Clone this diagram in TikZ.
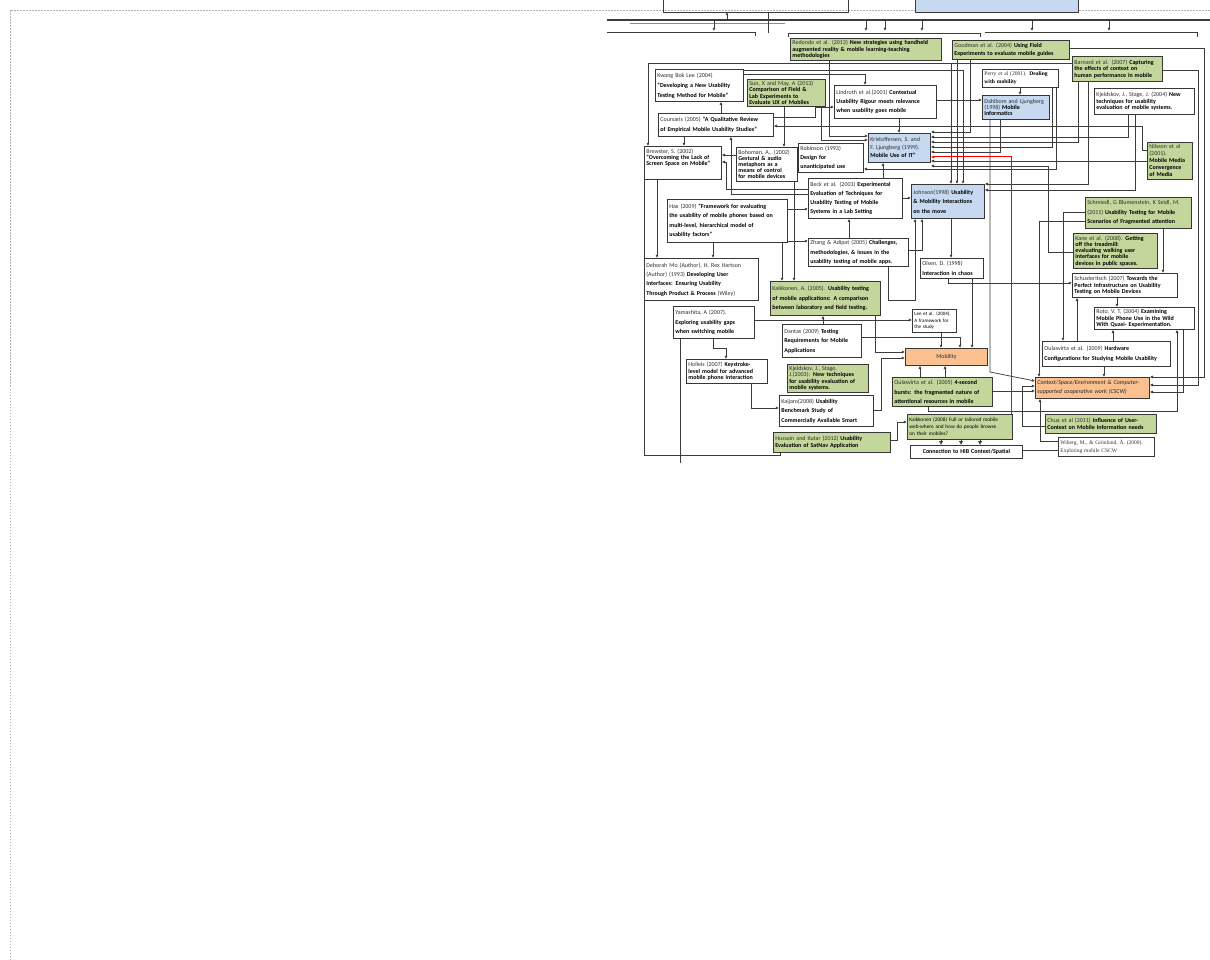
\documentclass[tikz,border=0pt]{standalone}
\usepackage{fontspec}
\setmainfont{Carlito}
\newfontfamily\tnr{Liberation Serif}
\usetikzlibrary{arrows.meta}
\definecolor{gfill}{RGB}{195,214,155}
\definecolor{bfill}{RGB}{198,217,241}
\definecolor{ofill}{RGB}{250,192,144}
\definecolor{edge}{RGB}{55,55,55}
\definecolor{wire}{RGB}{60,60,60}
\tikzset{
 box/.style={draw=edge,line width=0.8pt,fill=white,inner xsep=2pt,inner ysep=0.5pt,align=left,text=black!82},
 gf/.style={fill=gfill},
 bf/.style={fill=bfill},
 of/.style={fill=ofill},
 con/.style={draw=wire,line width=0.75pt},
 arr/.style={con,-{Latex[length=3.2pt,width=3pt]}},
 bigarr/.style={con,line width=0.9pt,-{Latex[length=4pt,width=4.5pt]}},
 redarr/.style={draw=red,line width=1pt,-{Latex[length=3.5pt,width=3.2pt]}},
}
\newcommand\diabox[8][]{%
  \pgfmathsetmacro\dbw{#5-#3}%
  \pgfmathsetmacro\dbh{#6-#4}%
  \pgfmathsetmacro\dbt{#5-#3-4}%
  \node[box,anchor=north west,minimum width=\dbw pt,minimum height=\dbh pt,text width=\dbt pt,font=\fontsize{6}{#7}\selectfont,#1] (#2) at (#3,#4) {#8};}
\newcommand\tb[1]{\textbf{\color{black}#1}}
\begin{document}
\begin{tikzpicture}[x=1pt,y=-1pt]
\useasboundingbox (0,0) rectangle (1210,960);
% page border
\draw[black!30,line width=0.8pt,dash pattern=on 1.5pt off 1.5pt] (10,960) -- (10,10) -- (1210,10);

% ---- cut-off upper strip
\draw[con,fill=bfill] (915,-2) rectangle (1078,12);
\draw[con] (663,0) -- (663,12) -- (848,12) -- (848,0);
\draw[con,line width=1.2pt] (607,20) -- (1210,20);
\draw[con,black!45] (630,23) -- (785,23);
\draw[arr] (727,20) -- (727,12);
\draw[con] (768,12) -- (768,33);
\foreach \x in {714,866,885,922,1032,1109} \draw[arr] (\x,20) -- (\x,31);
\draw[con] (607,32) -- (755,32) -- (755,36);
\draw[con] (788,37) -- (788,33) -- (980,33) -- (980,37);
\draw[con,line width=1pt] (985,33) -- (1197,33) -- (1197,37);

% ---- boxes
\diabox[gf]{redondo}{790}{38}{941}{60}{6.5}{Redondo et al. (2013) \tb{New strategies using handheld}\\\tb{augmented reality \& mobile learning-teaching}\\\tb{methodologies}}
\diabox[gf]{goodman}{952}{40}{1069}{59}{8}{Goodman et al. (2004) \tb{Using Field}\\\tb{Experiments to evaluate mobile guides}}
\diabox[gf]{barnard}{1072}{56}{1162}{81}{6.5}{Barnard et al. (2007) \tb{Capturing}\\\tb{the effects of context on}\\\tb{human performance in mobile}}
\diabox{kwang}{655}{69}{743}{101}{10}{Kwang Bok Lee (2004)\\\tb{“Developing a New Usability}\\\tb{Testing Method for Mobile”}}
\diabox[gf]{sun}{747}{79}{825}{106}{6.2}{Sun, X and May, A (2013)\\\tb{Comparison of Field \&}\\\tb{Lab Experiments to}\\\tb{Evaluate UX of Mobiles}}
\diabox{lindroth}{834}{85}{936}{118}{9.3}{Lindroth et al.(2001) \tb{Contextual}\\\tb{Usability Rigour meets relevance}\\\tb{when usability goes mobile}}
\diabox[font=\tnr\fontsize{5.6}{8}\selectfont]{perry}{982}{69}{1058}{87}{8}{Perry et al (2001). \tb{Dealing}\\\tb{with mobility}}
\diabox[bf]{dahlbom}{982}{95}{1049}{119}{6}{Dahlbom and Ljungberg\\(1998) \tb{Mobile}\\\tb{Informatics}}
\diabox{kjel04}{1094}{88}{1194}{114}{6.5}{Kjeldskov, J., Stage, J. (2004) \tb{New}\\\tb{techniques for usability}\\\tb{evaluation of mobile systems.}}
\diabox{coursaris}{658}{113}{773}{136}{10}{Coursaris (2005) \tb{“A Qualitative Review}\\\tb{of Empirical Mobile Usability Studies”}}
\diabox[bf]{kristof}{868}{133}{930}{162}{8}{Kristoffersen, S. and\\F. Ljungberg (1999).\\\tb{Mobile Use of IT”}}
\diabox{robinson}{798}{143}{863}{172}{9}{Robinson (1993)\\\tb{Design for}\\\tb{unanticipated use}}
\diabox{bohoman}{736}{147}{797}{181}{6.2}{Bohoman, A., (2002)\\\tb{Gestural \& audio}\\\tb{metaphors as a}\\\tb{means of control}\\\tb{for mobile devices}}
\diabox{brewster}{644}{146}{721}{179}{6}{Brewster, S. (2002)\\\tb{“Overcoming the Lack of}\\\tb{Screen Space on Mobile”}\\[5pt]\mbox{}}
\diabox[gf]{nilsson}{1147}{142}{1192}{179}{7}{Nilsson et al\\(2001).\\\tb{Mobile Media}\\\tb{Convergence}\\\tb{of Media}}
\diabox{beck}{808}{178}{902}{218}{9}{Beck et al. (2003) \tb{Experimental}\\\tb{Evaluation of Techniques for}\\\tb{Usability Testing of Mobile}\\\tb{Systems in a Lab Setting}}
\diabox[bf]{johnson}{911}{184}{984}{218}{9.5}{Johnson(1998) \tb{Usability}\\\tb{\& Mobility Interactions}\\\tb{on the move}}
\diabox[gf]{schmiedl}{1085}{197}{1191}{228}{9.5}{Schmiedl, G Blumenstein, K Seidl, M.\\(2011) \tb{Usability Testing for Mobile}\\\tb{Scenarios of Fragmented attention}}
\diabox{hax}{667}{199}{787}{242}{9.3}{Hax (2009) \tb{“Framework for evaluating}\\\tb{the usability of mobile phones based on}\\\tb{multi-level, hierarchical model of}\\\tb{usability factors”}}
\diabox[gf]{kane}{1073}{233}{1157}{268}{6.3}{Kane et al. (2008). \tb{Getting}\\\tb{off the treadmill:}\\\tb{evaluating walking user}\\\tb{interfaces for mobile}\\\tb{devices in public spaces.}}
\diabox{zhang}{808}{238}{908}{266}{9.3}{Zhang \& Adipat (2005) \tb{Challenges,}\\\tb{methodologies, \& issues in the}\\\tb{usability testing of mobile apps.}}
\diabox{deborah}{644}{258}{758}{300}{9.3}{Deborah Mo (Author), H. Rex Hartson\\(Author) (1993) \tb{Developing User}\\\tb{Interfaces: Ensuring Usability}\\\tb{Through Product \& Process} (Wiley)}
\diabox{olsen}{920}{258}{983}{278}{9.5}{Olsen, D. (1998)\\\tb{Interaction in chaos}}
\diabox{schust}{1072}{273}{1177}{297}{6.5}{Schusteritsch (2007) \tb{Towards the}\\\tb{Perfect Infrastructure on Usability}\\\tb{Testing on Mobile Devices}}
\diabox[gf]{kaik05}{770}{281}{880}{315}{9.8}{Kaikkonen, A. (2005). \tb{Usability testing}\\\tb{of mobile applications: A comparison}\\\tb{between laboratory and field testing.}}
\diabox{yamashita}{673}{306}{754}{338}{9.5}{Yamashita, A (2007).\\\tb{Exploring usability gaps}\\\tb{when switching mobile}}
\diabox{roto}{1094}{307}{1194}{329}{6.5}{Roto, V. T. (2004) \tb{Examining}\\\tb{Mobile Phone Use in the Wild}\\\tb{With Quasi- Experimentation.}}
\diabox[font=\fontsize{5}{6.5}\selectfont,text=black]{lee}{912}{309}{956}{332}{6.5}{Lee et al. (2004).\\A framework for\\the study}
\diabox{dantas}{782}{324}{861}{357}{9.5}{Dantas (2009) \tb{Testing}\\\tb{Requirements for Mobile}\\\tb{Applications}}
\diabox{oul09}{1042}{341}{1170}{366}{9.5}{Oulasvirta et al. (2009) \tb{Hardware}\\\tb{Configurations for Studying Mobile Usability}}
\diabox[of,align=center]{mobility}{905}{348}{987}{365}{8}{Mobility}
\diabox{holleis}{686}{359}{767}{383}{6.5}{Holleis (2007) \tb{Keystroke-}\\\tb{level model for advanced}\\\tb{mobile phone interaction}}
\diabox[gf]{kjel03}{787}{364}{868}{392}{6.3}{Kjeldskov, J., Stage,\\J.(2003): \tb{New techniques}\\\tb{for usability evaluation of}\\\tb{mobile systems.}}
\diabox[of,font=\itshape\fontsize{6}{9}\selectfont,text=black!85]{context}{1035}{377}{1149}{398}{9}{Context/Space/Environment \& Computer-\\supported cooperative work (CSCW)}
\diabox[gf]{oul05}{892}{377}{992}{406}{9.5}{Oulasvirta et al. (2005) \tb{4-second}\\\tb{bursts: the fragmented nature of}\\\tb{attentional resources in mobile}}
\diabox{kaijaro}{779}{395}{873}{426}{9.5}{Kaijaro(2008) \tb{Usability}\\\tb{Benchmark Study of}\\\tb{Commercially Available Smart}}
\diabox[gf]{chua}{1045}{414}{1156}{433}{7.5}{Chua et al (2011) \tb{Influence of User-}\\\tb{Context on Mobile Information needs}}
\diabox[gf,font=\fontsize{5.3}{7}\selectfont,text=black]{kaik08}{907}{414}{1012}{439}{7}{Kaikkonen (2008) Full or tailored mobile\\web-where and how do people browse\\on their mobiles?}
\diabox[gf]{hussain}{773}{432}{890}{452}{7}{Hussain and Kutar (2012) \tb{Usability}\\\tb{Evaluation of SatNav Application}}
\diabox[align=center]{connection}{910}{445}{1022}{458}{7}{\tb{Connection to HIB Context/Spatial}}
\diabox[font=\tnr\fontsize{5.5}{7.5}\selectfont,text=black!80]{wiberg}{1058}{437}{1154}{456}{7.5}{Wiberg, M., \& Grönlund, Å. (2000).\\Exploring mobile CSCW}

% ---- connectors
\draw[arr] (coursaris.north -| 721,0) -- (kwang.south -| 721,0);
\draw[arr] (coursaris.south -| 684,0) -- (brewster.north -| 684,0);
\draw[arr] (brewster.south -| 657,0) -- (deborah.north -| 657,0);
\draw[arr] (hax.south -| 713,0) -- (deborah.north -| 713,0);
\draw[arr] (hax.south -| 782,0) -- (kaik05.north -| 782,0);
\draw[arr] (hax.east |- 0,209) -- (beck.west |- 0,209);
\draw[arr] (hax.east |- 0,241) -- (zhang.west |- 0,241);
\draw[arr] (bohoman.west |- 0,155) -- (brewster.east |- 0,155);
\draw[arr] (sun.south -| 784,0) -- (bohoman.north -| 784,0);
\draw[arr] (bohoman.south -| 794,0) -- (kaik05.north -| 794,0);
\draw[arr] (beck.west |- 0,189) -- (726,189) |- (brewster.east |- 0,162);
\draw[arr] (beck.west |- 0,194) -- (731,194) -- (coursaris.south -| 731,0);
\draw[arr] (lindroth.east |- 0,100) -- (dahlbom.west |- 0,100);
\draw[arr] (perry.south -| 1020,0) -- (dahlbom.north -| 1020,0);
\draw[arr] (kwang.east |- 0,74) -| (lindroth.north -| 865,0);
\coordinate (bj) at (951,63);
\draw[arr] (barnard.west |- 0,63) -- (648,63) -- (brewster.north -| 648,0);
\draw[arr] (bj) -- (johnson.north -| bj);
\draw[arr] (goodman.south -| 957,0) -- (johnson.north -| 957,0);
\draw[arr] (kwang.east |- 0,70) -| (johnson.north -| 963,0);
\draw[arr] (goodman.south -| 970,0) |- (kristof.east |- 0,132);
\draw[arr] (kjel04.south -| 1128,0) |- (kristof.east |- 0,137);
\draw[arr] (barnard.south -| 1078,0) |- (kristof.east |- 0,142);
\draw[arr] (perry.south -| 1052,0) |- (kristof.east |- 0,147);
\draw[arr] (dahlbom.south -| 1000,0) |- (kristof.east |- 0,152);
\draw[arr] (nilsson.west |- 0,161) -- (kristof.east |- 0,161);
\draw[arr] (kane.west |- 0,252) -| (1048,166) -- (kristof.east |- 0,166);
\draw[arr] (perry.south -| 1056,0) |- (robinson.east |- 0,169);
\draw[arr] (nilsson.west |- 0,150) -- (1142,150) |- (coursaris.east |- 0,126);
\draw[arr] (coursaris.east |- 0,117) -- (815,117) |- (lindroth.west |- 0,107);
\draw[arr] (redondo.south -| 829,0) |- (kristof.west |- 0,136);
\draw[arr] (sun.south -| 821,0) |- (kristof.west |- 0,140);
\draw[arr] (lindroth.south -| 899,0) -- (kristof.north -| 899,0);
\draw[arr] (beck.north -| 883,0) -- (kristof.south -| 883,0);
\draw[arr] (beck.east |- 0,198) -- (johnson.west |- 0,198);
\draw[arr] (zhang.north -| 849,0) -- (beck.south -| 849,0);
\draw[arr] (zhang.south -| 888,0) |- (915,300) -- (johnson.south -| 915,0);
\draw[arr] (zhang.east |- 0,250) -| (johnson.south -| 922,0);
\draw[arr] (johnson.south -| 951,0) -- (olsen.north -| 951,0);
\draw[arr] (olsen.south -| 972,0) -- (mobility.north -| 972,0);
\draw[arr] (lee.south -| 941,0) -- (mobility.north -| 941,0);
\draw[arr] (dantas.east |- 0,337) -| (mobility.north -| 960,0);
\draw[arr] (kaik05.south -| 875,0) |- (mobility.west |- 0,352);
\draw[arr] (kaijaro.east |- 0,410) -- (881,410) |- (mobility.west |- 0,358);
\draw[arr] (oul05.north -| 920,0) -- (mobility.south -| 920,0);
\draw[arr] (oul05.north -| 945,0) -- (mobility.south -| 945,0);
\draw[arr] (dahlbom.south -| 990,0) -- (990,372) -- (context.west |- 0,381);
\draw[arr] (oul05.east |- 0,391) -- (context.west |- 0,391);
\draw[arr] (chua.west |- 0,426) -- (1022,426) |- (context.west |- 0,386);
\draw[arr] (wiberg.west |- 0,441) -- (1040,441) -- (context.south -| 1040,0);
\draw[con] (connection.east |- 0,450) -- (wiberg.west |- 0,450);
\foreach \x in {941,961,980} \draw[bigarr] (kaik08.south -| \x,0) -- (connection.north -| \x,0);
\draw[arr] (hussain.east |- 0,440) -- (897,440) |- (kaik08.west |- 0,422);
\draw[arr] (dantas.north -| 823,0) -- (kaik05.south -| 823,0);
\draw[arr] (yamashita.south -| 713,0) |- (726,348) -- (holleis.north -| 726,0);
\draw[arr] (holleis.south -| 751,0) |- (kaijaro.west |- 0,408);
\coordinate (yend) at (680,463);
\draw[con] (yamashita.south -| yend) -- (yend);
\draw[arr] (yamashita.east |- 0,320) -- (lee.west |- 0,320);
\draw[con] (hussain.south -| 780,0) |- (644,455) -- (brewster.south west);
\draw[arr] (schmiedl.west |- 0,212) -| (oul09.north -| 1063,0);
\draw[arr] (schmiedl.west |- 0,221) -| (context.north -| 1039,0);
\draw[arr] (schmiedl.south -| 1163,0) -- (schust.north -| 1163,0);
\draw[arr] (schust.south -| 1117,0) -- (roto.north -| 1117,0);
\draw[arr] (oul09.north -| 1077,0) -- (schust.south -| 1077,0);
\draw[arr] (oul09.north -| 1113,0) -- (roto.south -| 1113,0);
\draw[arr] (oul09.south -| 1104,0) -- (context.north -| 1104,0);
\draw[arr] (roto.south -| 1183,0) |- (context.east |- 0,392);
\draw[arr] (oul05.south -| 928,0) |- (1177,411) -- (roto.south -| 1177,0);
\draw[arr] (goodman.east |- 0,48) -| (1204,377) -- (context.east |- 0,377);
\draw[arr] (barnard.east |- 0,70) -| (1198,385) -- (context.east |- 0,385);
\draw[arr] (kjel04.south -| 1135,0) |- (johnson.east |- 0,190);
\draw[arr] (barnard.south -| 1088,0) |- (johnson.east |- 0,184);
\draw[arr] (olsen.south -| 948,0) |- (schust.west |- 0,283);
\draw[redarr] (kaik08.north -| 1011,0) |- (kristof.east |- 0,157);
\end{tikzpicture}
\end{document}
